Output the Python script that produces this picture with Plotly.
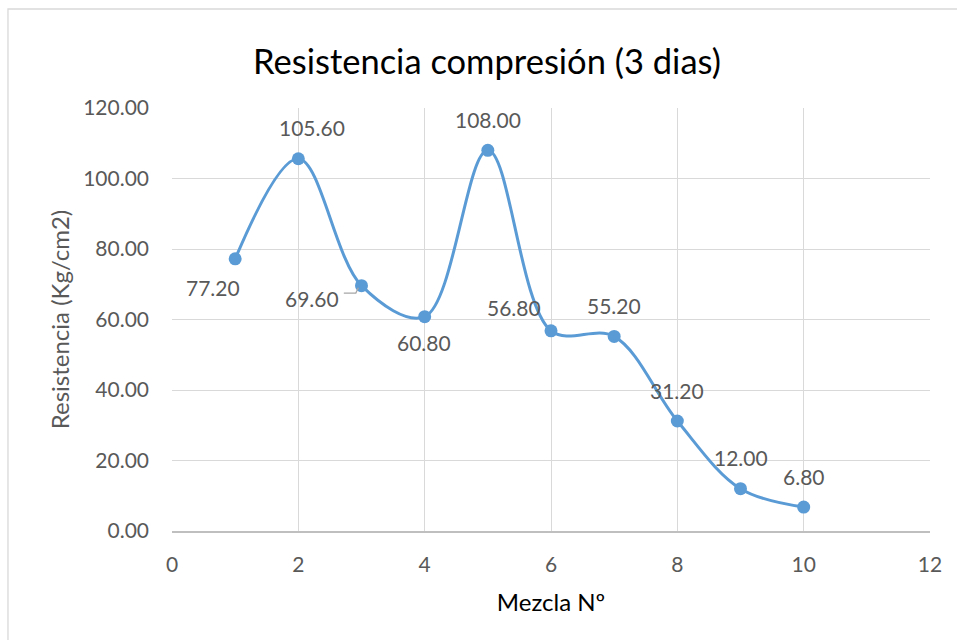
import plotly.graph_objects as go

mezcla = [1, 2, 3, 4, 5, 6, 7, 8, 9, 10]
resistencia = [77.20, 105.60, 69.60, 60.80, 108.00, 56.80, 55.20, 31.20, 12.00, 6.80]
# label offsets (px) relative to each point
label_dx = [-22, 14, -50, -1, 0, -37, 0, 0, 0, 0]
label_dy = [29, -31, 13, 26, -31, -23, -31, -31, -31, -31]

FONT = "Lato, Open Sans, sans-serif"
BLUE = "#5b9bd5"
GREY_TXT = "#595959"
GRID = "#d9d9d9"

fig = go.Figure()
fig.add_trace(go.Scatter(
    x=mezcla, y=resistencia, mode="lines+markers",
    line=dict(color=BLUE, width=3, shape="spline", smoothing=1.0),
    marker=dict(color=BLUE, size=13),
    hoverinfo="x+y", showlegend=False,
))

annotations = []
for x, y, dx, dy in zip(mezcla, resistencia, label_dx, label_dy):
    annotations.append(dict(
        x=x, y=y, xref="x", yref="y", text=f"{y:.2f}", showarrow=False,
        xshift=dx, yshift=-dy, font=dict(family=FONT, size=21, color=GREY_TXT),
    ))

shapes = [
    # chart border
    dict(type="rect", xref="paper", yref="paper", x0=-0.2164, x1=1.05, y0=-0.29, y1=1.234,
         line=dict(color=GRID, width=1.3), layer="below"),
    # leader line for the 69.60 label
    dict(type="path", xref="x", yref="y",
         path="M 2.72,67.5 L 2.91,67.5 L 2.95,69.0",
         line=dict(color="#a6a6a6", width=1.3)),
]

fig.update_layout(
    width=957, height=640,
    margin=dict(l=172, r=27, t=108, b=109),
    paper_bgcolor="white", plot_bgcolor="white",
    title=dict(text="Resistencia compresión (3 dias)", x=487 / 957, xanchor="center",
               y=1 - 62 / 640, yanchor="middle",
               font=dict(family=FONT, size=34.5, color="#000000")),
    xaxis=dict(range=[0, 12], dtick=2, tick0=0, showgrid=True, gridcolor=GRID, gridwidth=1.3,
               zeroline=False, showline=True, linecolor="#bfbfbf", linewidth=1.5,
               ticks="", ticklabelstandoff=14,
               tickfont=dict(family=FONT, size=21, color=GREY_TXT),
               title=dict(text="Mezcla Nº", standoff=19,
                          font=dict(family=FONT, size=24, color="#000000"))),
    yaxis=dict(range=[0, 120], dtick=20, tick0=0, tickformat=".2f", showgrid=True,
               gridcolor=GRID, gridwidth=1.3, zeroline=False, showline=False,
               ticks="", ticklabelstandoff=22,
               tickfont=dict(family=FONT, size=21, color=GREY_TXT),
               title=dict(text="Resistencia (Kg/cm2)", standoff=6,
                          font=dict(family=FONT, size=24, color=GREY_TXT))),
    annotations=annotations, shapes=shapes,
)

fig.write_html("out.html")
